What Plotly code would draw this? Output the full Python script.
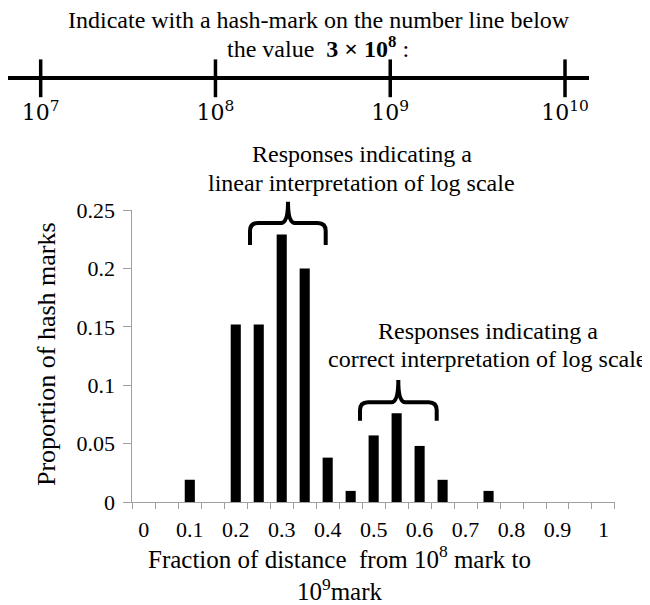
import plotly.graph_objects as go

# ---- data ----
fractions = [0, 0.05, 0.1, 0.15, 0.2, 0.25, 0.3, 0.35, 0.4, 0.45, 0.5,
             0.55, 0.6, 0.65, 0.7, 0.75, 0.8, 0.85, 0.9, 0.95, 1.0]
proportions = [0, 0, 0.019, 0, 0.152, 0.152, 0.229, 0.2, 0.038, 0.0095, 0.057,
               0.076, 0.048, 0.019, 0, 0.0095, 0, 0, 0, 0, 0]
x_tick_vals = [0, 0.1, 0.2, 0.3, 0.4, 0.5, 0.6, 0.7, 0.8, 0.9, 1]
x_tick_text = ["0", "0.1", "0.2", "0.3", "0.4", "0.5", "0.6", "0.7", "0.8", "0.9", "1"]
numline_vals = [1e7, 1e8, 1e9, 1e10]
numline_text = ["10<sup>7</sup>", "10<sup>8</sup>", "10<sup>9</sup>", "10<sup>10</sup>"]

# the page body has an 8px default margin, so the figure is 8px smaller
OFF = 8
W, H = 650 - OFF, 605 - OFF
SERIF = "Liberation Serif"
AX = "#a0a0a0"


def px(x):
    return max(0.0, (x - OFF) / W)


def py(y):
    return 1 - (y - OFF) / H


fig = go.Figure()

fig.add_trace(go.Bar(x=fractions, y=proportions, marker=dict(color="black", line=dict(width=0)),
                     xaxis="x", yaxis="y", showlegend=False))

fig.add_trace(go.Scatter(x=numline_vals, y=[0] * len(numline_vals), mode="markers",
                         marker=dict(symbol="line-ns", size=27, line=dict(width=3.5, color="black")),
                         xaxis="x3", yaxis="y3", cliponaxis=False, showlegend=False, hoverinfo="skip"))

fig.update_layout(
    template="none",
    width=W, height=H,
    margin=dict(l=0, r=0, t=0, b=0, pad=0, autoexpand=False),
    paper_bgcolor="white", plot_bgcolor="white",
    bargap=0.56,
    font=dict(family=SERIF, color="black"),
    xaxis=dict(domain=[px(132.3), px(615)], range=[-0.0251, 1.0251], anchor="y", automargin=False,
               tickmode="array", tickvals=x_tick_vals, ticktext=x_tick_text, ticks="",
               minor=dict(tickmode="linear", tick0=-0.025, dtick=0.05, ticks="outside",
                          ticklen=6, tickcolor=AX, tickwidth=1, showgrid=False),
               showline=True, linecolor=AX, linewidth=1, showgrid=False, zeroline=False,
               tickfont=dict(family=SERIF, size=22, color="black"), ticklabelstandoff=8),
    yaxis=dict(domain=[py(502), py(210)], range=[0, 0.25], anchor="x", dtick=0.05, tick0=0,
               automargin=False,
               ticks="outside", ticklen=8, tickcolor=AX, tickwidth=1,
               showline=True, linecolor=AX, linewidth=1, showgrid=False, zeroline=False,
               tickfont=dict(family=SERIF, size=22, color="black"), ticklabelstandoff=4),
    xaxis3=dict(domain=[px(7.3), px(589.3)], type="log", range=[6.813, 10.139], anchor="y3",
                automargin=False, showline=False, ticks="",
                tickmode="array", tickvals=numline_vals, ticktext=numline_text,
                tickfont=dict(family="DejaVu Serif", size=22, color="black"),
                showgrid=False, zeroline=False, ticklabelstandoff=17),
    yaxis3=dict(domain=[py(80.3), py(76.3)], range=[-1, 1], anchor="x3", automargin=False,
                showticklabels=False, ticks="", showgrid=False, showline=False,
                zeroline=True, zerolinecolor="black", zerolinewidth=4),
)


def brace(x0, x1, xc, ytip, ymid, yend, r=8, r2=7):
    pts = [
        f"M {px(x0)},{py(yend)}",
        f"L {px(x0)},{py(ymid + r)}",
        f"Q {px(x0)},{py(ymid)} {px(x0 + r)},{py(ymid)}",
        f"L {px(xc - r2)},{py(ymid)}",
        f"Q {px(xc)},{py(ymid)} {px(xc)},{py(ytip)}",
        f"Q {px(xc)},{py(ymid)} {px(xc + r2)},{py(ymid)}",
        f"L {px(x1 - r)},{py(ymid)}",
        f"Q {px(x1)},{py(ymid)} {px(x1)},{py(ymid + r)}",
        f"L {px(x1)},{py(yend)}",
    ]
    return dict(type="path", xref="paper", yref="paper", path=" ".join(pts),
                line=dict(color="black", width=4), layer="above")


fig.add_shape(**brace(250, 325.7, 288, 201.7, 223, 245))
fig.add_shape(**brace(360, 436.7, 398.3, 380, 402.3, 420.7))


def ann(text, x, y, size, angle=0):
    fig.add_annotation(text=text, x=px(x), y=py(y), xref="paper", yref="paper",
                       xanchor="center", yanchor="middle", showarrow=False, textangle=angle,
                       font=dict(family=SERIF, size=size, color="black"))


ann("Indicate with a hash-mark on the number line below", 319, 20, 24)
ann("the value  <b>3 × 10<sup>8</sup></b> :", 318, 47, 24)
ann("Responses indicating a", 361.7, 154, 24)
ann("linear interpretation of log scale", 361.7, 182.5, 24)
ann("Responses indicating a", 487.5, 331, 24)
ann("correct interpretation of log scale", 487.5, 359, 24)
ann("Fraction of distance  from 10<sup>8</sup> mark to<br>10<sup>9</sup>mark", 339, 573, 25)
ann("Proportion of hash marks", 46, 354, 26, angle=-90)

fig.write_html("out.html")
